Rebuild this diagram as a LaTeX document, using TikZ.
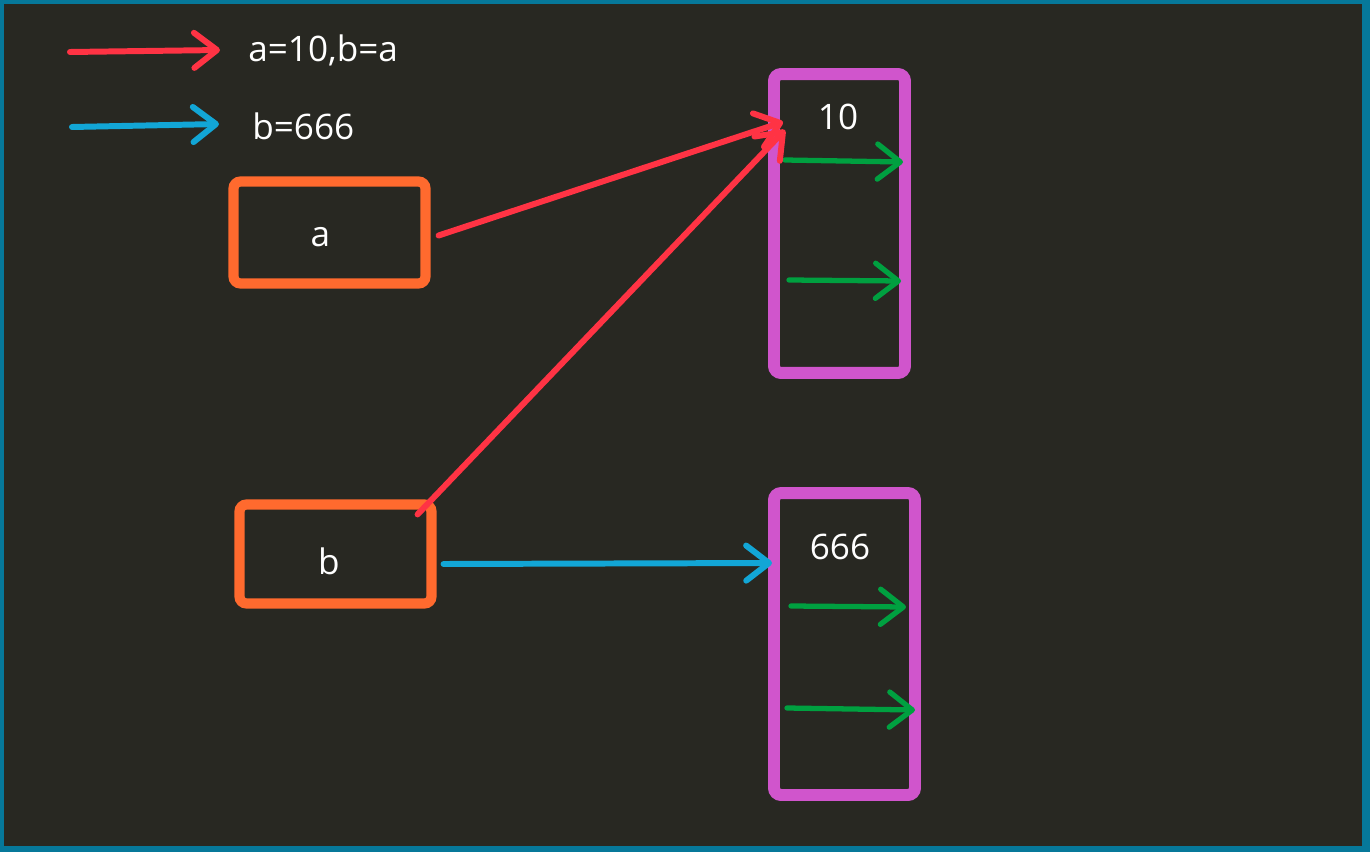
\documentclass[tikz,border=0pt]{standalone}
\usepackage{fontspec}
\setmainfont{Open Sans}
\usetikzlibrary{arrows.meta, positioning, calc}
\usepackage{xcolor}
\definecolor{bgdark}{HTML}{282822}
\definecolor{frameteal}{HTML}{06789A}
\definecolor{redarrow}{HTML}{FF3344}
\definecolor{bluearrow}{HTML}{12A6D6}
\definecolor{greenarrow}{HTML}{00A040}
\definecolor{varorange}{HTML}{FF6A2E}
\definecolor{mempurple}{HTML}{D055CC}

\begin{document}
\begin{tikzpicture}[x=0.02cm, y=-0.02cm, >={Straight Barb[length=13pt,width=20pt,round]}, font=\fontsize{20}{24}\selectfont, text=white]
    \tikzstyle{pointer}=[->, line width=3.4pt, line cap=round]
    \tikzstyle{var box}=[draw=varorange, line width=5.8pt, rounded corners=4pt, minimum width=3.84cm, minimum height=1.98cm, inner sep=0pt]
    \tikzstyle{mem box}=[draw=mempurple, line width=6.8pt, rounded corners=4pt, inner sep=0pt]

    % Background and frame
    \fill[frameteal] (0,0) rectangle (1370,852);
    \fill[bgdark] (4,4) rectangle (1362,846);
    \useasboundingbox (0,0) rectangle (1370,852);

    % Legend
    \coordinate (L1-start) at (70,52);
    \coordinate (L1-end) at (220,50);
    \coordinate (L2-start) at (72,127);
    \coordinate (L2-end) at (219,124);
    \draw[pointer, redarrow] (L1-start) -- (L1-end);
    \draw[pointer, bluearrow] (L2-start) -- (L2-end);
    \node[anchor=west, inner sep=0pt] (leg1) at (248,50) {a=10,b=a};
    \node[anchor=west, inner sep=0pt] (leg2) at (252,126) {b=666};

    % Variables (text sits a little left of and below the centre)
    \node[var box, minimum height=2.04cm] (a) at (329.5,232.5) {\kern-0.36cm\raisebox{-0.1cm}[\height][\depth]{a}};
    \node[var box] (b) at (335.5,554) {\kern-0.26cm\raisebox{-0.14cm}[\height][\depth]{b}};

    % Memory blocks
    \node[mem box, minimum width=2.62cm, minimum height=5.98cm] (m10) at (839.5,223.5) {};
    \node[mem box, minimum width=2.82cm, minimum height=6.04cm] (m666) at (844.5,644) {};
    \node (v10) at (838,117) {10};
    \node (v666) at (840,547) {666};

    % Inner pointers of the memory blocks
    \foreach \xa/\ya/\xb/\yb in {785/160/903/162, 789/280/901/281, 791/606/906/607, 787/708/915/710}
        \draw[pointer, greenarrow, line width=3pt] (\xa,\ya) -- (\xb,\yb);

    % References
    \coordinate (m10-in1) at (783,122);
    \coordinate (m10-in2) at (785,130);
    \coordinate (m666-in) at (772,563);
    \draw[pointer, redarrow] ($(a.east)+(8,3)$) -- (m10-in1);
    \draw[pointer, redarrow] ($(b.north east)+(-19,15)$) -- (m10-in2);
    \draw[pointer, bluearrow] ($(b.east)+(7,10)$) -- (m666-in);

\end{tikzpicture}
\end{document}
